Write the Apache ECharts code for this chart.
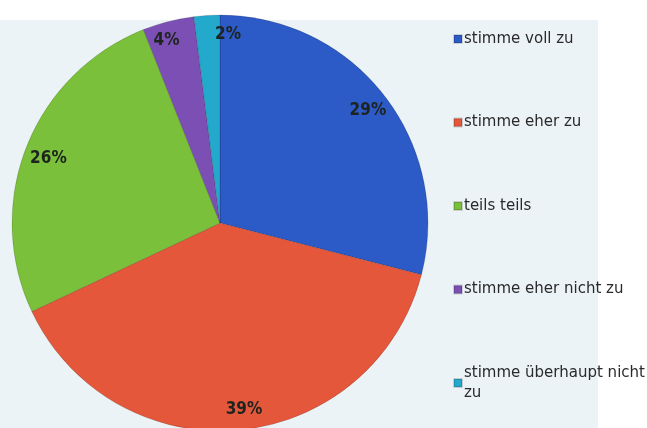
<!DOCTYPE html>
<html><head><meta charset="utf-8">
<script src="https://cdn.jsdelivr.net/npm/echarts@6/dist/echarts.min.js"></script>
<style>html,body{margin:0;padding:0;background:#fff}#c{width:647px;height:428px}</style>
</head><body><div id="c"></div>
<script>
const categories = ['stimme voll zu','stimme eher zu','teils teils','stimme eher nicht zu','stimme überhaupt nicht zu'];
const values = [29, 39, 26, 4, 2];
const colors = ['#2c5ac6','#e5573b','#7bc03a','#7b4fb3','#23a9cb'];
const labelOffsets = [[-3,5],[6,-4],[6,6],[-6,3],[20,2]];

const chart = echarts.init(document.getElementById('c'));
const data = categories.map((n,i)=>({name:n, value:values[i], itemStyle:{color:colors[i]}}));
const labelData = categories.map((n,i)=>({name:n, value:values[i], label:{offset:labelOffsets[i]}}));
chart.setOption({
  animation:false,
  graphic:[{type:'rect', z:-10, shape:{x:0,y:20,width:598,height:408}, style:{fill:'#ebf3f6'}}],
  legend:{
    orient:'vertical', left:448, top:24, itemGap:63.5, height:404,
    icon:'rect', itemWidth:8, itemHeight:8,
    data:categories,
    formatter: n => n==='stimme überhaupt nicht zu' ? 'stimme überhaupt nicht\nzu' : n,
    textStyle:{fontFamily:'DejaVu Sans', fontSize:15, color:'#2a2a2a', lineHeight:20, padding:[0,0,0,-3]}
  },
  series:[{
    type:'pie', center:[220,223], radius:[0,208], startAngle:90, clockwise:true,
    data:data, label:{show:false}, labelLine:{show:false},
    itemStyle:{borderColor:'rgba(0,0,0,0.15)', borderWidth:1},
    emphasis:{disabled:true}
  },{
    type:'pie', center:[220,223], radius:[168,208], startAngle:90, clockwise:true,
    silent:true, data:labelData, color:['rgba(0,0,0,0)'],
    itemStyle:{color:'rgba(0,0,0,0)'},
    label:{show:true, position:'inside', formatter:'{c}%', fontFamily:'DejaVu Sans Condensed', fontWeight:'bold', fontSize:17, color:'#1d2420'},
    labelLine:{show:false}, emphasis:{disabled:true}
  }]
});
</script></body></html>
